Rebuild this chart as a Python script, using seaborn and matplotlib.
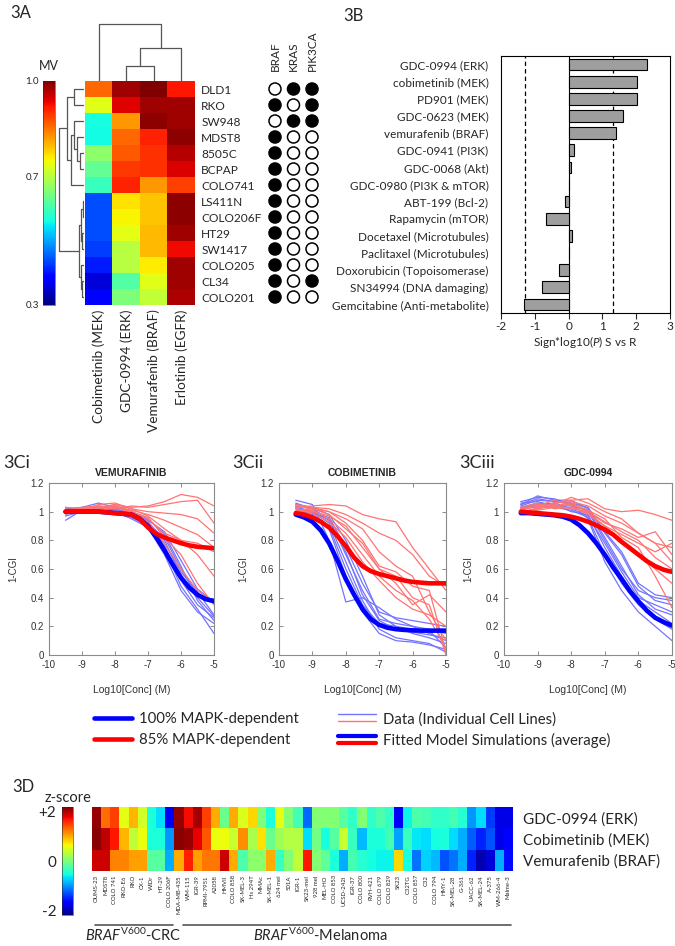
import numpy as np
import pandas as pd
import matplotlib
matplotlib.use("Agg")
import matplotlib.pyplot as plt
import matplotlib.transforms as mtransforms
from matplotlib.lines import Line2D
from matplotlib.legend_handler import HandlerBase
import seaborn as sns

sns.set_style("white")
plt.rcParams["font.family"] = ["Lato", "DejaVu Sans"]
plt.rcParams["mathtext.fontset"] = "custom"
plt.rcParams["mathtext.rm"] = "Lato"
plt.rcParams["mathtext.it"] = "Lato:italic"
plt.rcParams["mathtext.bf"] = "Lato:bold"
plt.rcParams["axes.unicode_minus"] = False
ARIAL = ["Liberation Sans", "DejaVu Sans"]

# =====================================
# Data - 3A (MV heatmap + mutations)
# =====================================

cell_lines_a = ["DLD1", "RKO", "SW948", "MDST8", "8505C", "BCPAP", "COLO741",
                "LS411N", "COLO206F", "HT29", "SW1417", "COLO205", "CL34", "COLO201"]
drugs_a = ["Cobimetinib (MEK)", "GDC-0994 (ERK)", "Vemurafenib (BRAF)", "Erlotinib (EGFR)"]
mv_cobimetinib = [0.86, 0.735, 0.565, 0.56, 0.665, 0.63, 0.595, 0.44, 0.44, 0.44, 0.43, 0.405, 0.355, 0.385]
mv_gdc0994 = [0.98, 0.94, 0.825, 0.86, 0.87, 0.895, 0.91, 0.77, 0.755, 0.74, 0.70, 0.70, 0.615, 0.65]
mv_vemurafenib = [1.0, 0.98, 0.99, 0.91, 0.90, 0.90, 0.825, 0.79, 0.79, 0.80, 0.80, 0.76, 0.735, 0.71]
mv_erlotinib = [0.92, 0.98, 0.98, 0.99, 0.965, 0.945, 0.89, 0.99, 0.99, 0.98, 0.93, 0.98, 0.98, 0.97]

genes = ["BRAF", "KRAS", "PIK3CA"]
mut_braf = [0, 1, 0, 1, 1, 1, 1, 1, 1, 1, 1, 1, 1, 1]
mut_kras = [1, 0, 1, 0, 0, 0, 0, 0, 0, 0, 0, 0, 0, 0]
mut_pik3ca = [1, 1, 1, 0, 0, 0, 0, 0, 0, 0, 0, 0, 1, 0]

# dendrogram trees: (left, right, merge height)
col_tree = (0, ((1, 2, 15), 3, 33), 57)
row_tree = (((0, 1, 10), ((2, (3, (4, 5, 4), 7), 10), 6, 13), 17),
            (((7, 8, 1.5), (9, 10, 2.0), 3.0), (11, (12, 13, 2.0), 3.0), 5.0),
            25.5)

# =====================================
# Data - 3B
# =====================================

drugs_b = ["GDC-0994 (ERK)", "cobimetinib (MEK)", "PD901 (MEK)", "GDC-0623 (MEK)",
           "vemurafenib (BRAF)", "GDC-0941 (PI3K)", "GDC-0068 (Akt)",
           "GDC-0980 (PI3K & mTOR)", "ABT-199 (Bcl-2)", "Rapamycin (mTOR)",
           "Docetaxel (Microtubules)", "Paclitaxel (Microtubules)",
           "Doxorubicin (Topoisomerase)", "SN34994 (DNA damaging)",
           "Gemcitabine (Anti-metabolite)"]
pvals_b = [2.32, 2.01, 2.01, 1.62, 1.39, 0.15, 0.08, 0.0, -0.12, -0.68, 0.11, 0.0, -0.28, -0.78, -1.32]
sig_level = 1.301

# =====================================
# Data - 3C dose response
# =====================================

x_data = [-9.5, -9.0, -8.5, -8.0, -7.5, -7.0, -6.5, -6.0, -5.5, -5.0]
x_fit = [-9.5, -9.25, -9.0, -8.75, -8.5, -8.25, -8.0, -7.75, -7.5, -7.25,
         -7.0, -6.75, -6.5, -6.25, -6.0, -5.75, -5.5, -5.25, -5.0]

vem_blue_data = [
    [0.94, 1.01, 1.02, 1.00, 0.98, 0.93, 0.80, 0.55, 0.40, 0.27],
    [1.02, 1.03, 1.06, 1.03, 1.00, 0.95, 0.84, 0.62, 0.38, 0.24],
    [0.97, 1.00, 1.01, 1.02, 0.97, 0.92, 0.74, 0.48, 0.32, 0.15],
    [1.00, 1.02, 1.01, 0.99, 0.96, 0.90, 0.78, 0.58, 0.44, 0.28],
    [1.03, 1.01, 1.00, 1.02, 0.99, 0.94, 0.86, 0.66, 0.46, 0.37],
    [0.99, 1.00, 1.02, 1.00, 0.95, 0.89, 0.70, 0.45, 0.30, 0.22],
    [1.01, 0.99, 1.03, 1.01, 0.97, 0.91, 0.82, 0.60, 0.42, 0.36],
    [0.98, 1.02, 1.00, 1.04, 1.00, 0.93, 0.76, 0.52, 0.35, 0.26],
]
vem_red_data = [
    [1.00, 1.02, 1.03, 1.05, 1.03, 1.04, 1.07, 1.12, 1.10, 1.04],
    [1.01, 1.03, 1.04, 1.02, 1.04, 1.03, 1.05, 1.07, 1.08, 0.92],
    [0.99, 1.01, 1.05, 1.06, 1.02, 1.00, 0.99, 0.98, 0.95, 0.85],
    [1.02, 1.00, 1.03, 1.04, 1.01, 0.98, 0.94, 0.89, 0.84, 0.75],
    [0.98, 1.02, 1.01, 1.03, 1.00, 0.95, 0.85, 0.80, 0.78, 0.72],
    [1.00, 1.03, 1.02, 1.05, 1.02, 0.97, 0.88, 0.80, 0.70, 0.55],
    [1.01, 1.00, 1.04, 1.03, 0.99, 0.93, 0.78, 0.60, 0.45, 0.37],
    [1.03, 1.02, 1.01, 1.04, 1.00, 0.96, 0.82, 0.70, 0.50, 0.35],
]
vem_blue_fit = [1.0, 1.0, 1.0, 1.0, 1.0, 0.995, 0.99, 0.985, 0.98, 0.95,
                0.90, 0.82, 0.73, 0.63, 0.54, 0.47, 0.42, 0.39, 0.375]
vem_red_fit = [1.0, 1.0, 1.0, 1.0, 1.0, 0.995, 0.99, 0.985, 0.98, 0.95,
               0.89, 0.845, 0.82, 0.80, 0.78, 0.765, 0.755, 0.75, 0.745]

cob_blue_data = [
    [1.08, 1.05, 0.80, 0.37, 0.40, 0.33, 0.25, 0.20, 0.15, 0.10],
    [1.06, 1.02, 0.95, 0.70, 0.45, 0.25, 0.22, 0.20, 0.18, 0.15],
    [1.04, 0.99, 0.90, 0.60, 0.35, 0.22, 0.20, 0.18, 0.17, 0.05],
    [1.02, 0.98, 0.96, 0.75, 0.50, 0.30, 0.26, 0.24, 0.22, 0.20],
    [1.00, 1.00, 0.92, 0.65, 0.38, 0.18, 0.12, 0.10, 0.08, 0.02],
    [1.05, 1.03, 0.98, 0.80, 0.55, 0.28, 0.20, 0.15, 0.12, 0.08],
    [0.99, 0.97, 0.88, 0.55, 0.30, 0.15, 0.10, 0.09, 0.07, 0.04],
    [1.03, 1.00, 0.94, 0.72, 0.42, 0.24, 0.18, 0.16, 0.14, 0.12],
]
cob_red_data = [
    [1.03, 1.04, 1.05, 1.04, 0.98, 0.95, 0.93, 0.75, 0.60, 0.45],
    [1.00, 1.03, 1.02, 0.98, 0.92, 0.85, 0.80, 0.70, 0.55, 0.48],
    [1.02, 1.00, 0.97, 0.90, 0.75, 0.60, 0.55, 0.40, 0.35, 0.00],
    [0.99, 1.01, 0.95, 0.85, 0.70, 0.55, 0.45, 0.38, 0.25, 0.05],
    [1.04, 1.02, 1.00, 0.92, 0.80, 0.62, 0.58, 0.48, 0.45, 0.02],
    [1.01, 0.99, 0.93, 0.82, 0.65, 0.52, 0.40, 0.32, 0.28, 0.20],
    [1.00, 1.02, 0.98, 0.88, 0.78, 0.60, 0.50, 0.35, 0.42, 0.30],
    [1.05, 1.03, 1.00, 0.95, 0.88, 0.72, 0.62, 0.55, 0.30, 0.10],
]
cob_blue_fit = [0.98, 0.96, 0.93, 0.87, 0.78, 0.66, 0.53, 0.42, 0.32, 0.25,
                0.21, 0.19, 0.18, 0.175, 0.172, 0.17, 0.17, 0.17, 0.17]
cob_red_fit = [0.99, 0.98, 0.96, 0.93, 0.89, 0.83, 0.76, 0.68, 0.62, 0.585,
               0.565, 0.55, 0.535, 0.52, 0.51, 0.505, 0.50, 0.50, 0.50]

gdc_blue_data = [
    [1.07, 1.10, 1.09, 1.05, 1.00, 0.80, 0.60, 0.45, 0.40, 0.38],
    [1.05, 1.11, 1.08, 1.08, 1.02, 0.85, 0.70, 0.48, 0.38, 0.35],
    [1.03, 1.06, 1.05, 1.00, 0.98, 0.75, 0.55, 0.38, 0.30, 0.22],
    [1.04, 1.08, 1.07, 1.06, 0.95, 0.65, 0.45, 0.30, 0.20, 0.10],
    [1.06, 1.07, 1.04, 1.04, 1.01, 0.82, 0.62, 0.42, 0.32, 0.28],
    [1.02, 1.05, 1.06, 1.02, 0.97, 0.78, 0.58, 0.40, 0.35, 0.30],
    [1.05, 1.09, 1.07, 1.06, 1.03, 0.86, 0.72, 0.50, 0.42, 0.40],
    [1.03, 1.04, 1.03, 1.01, 0.96, 0.70, 0.50, 0.35, 0.25, 0.18],
]
gdc_red_data = [
    [1.00, 1.02, 1.06, 1.08, 1.09, 1.02, 1.00, 1.01, 0.98, 0.94],
    [0.98, 1.03, 1.05, 1.10, 1.06, 1.00, 0.95, 0.85, 0.78, 0.75],
    [1.02, 1.05, 1.04, 1.02, 1.00, 0.92, 0.88, 0.82, 0.86, 0.70],
    [1.01, 1.04, 1.08, 1.04, 0.98, 0.90, 0.84, 0.78, 0.72, 0.78],
    [0.99, 1.01, 1.03, 1.05, 1.00, 0.93, 0.86, 0.80, 0.68, 0.60],
    [1.03, 1.06, 1.02, 1.03, 0.99, 0.90, 0.80, 0.70, 0.60, 0.50],
    [1.00, 1.02, 1.04, 1.06, 1.01, 0.95, 0.82, 0.75, 0.55, 0.33],
    [1.02, 1.03, 1.06, 1.07, 1.04, 0.97, 0.92, 0.85, 0.78, 0.65],
]
gdc_blue_fit = [0.99, 0.99, 0.985, 0.98, 0.975, 0.965, 0.945, 0.905, 0.85, 0.78,
                0.70, 0.61, 0.53, 0.445, 0.375, 0.31, 0.26, 0.23, 0.205]
gdc_red_fit = [1.0, 0.995, 0.99, 0.985, 0.98, 0.975, 0.965, 0.95, 0.93, 0.905,
               0.875, 0.84, 0.79, 0.745, 0.70, 0.655, 0.62, 0.595, 0.58]

# =====================================
# Data - 3D z-score heatmap
# =====================================

lines_crc = ["OUMS-23", "MDST8", "COLO 741", "RKO-E6", "RKO", "CX-1", "WiDr", "HT-29", "COLO 206F"]
lines_mel = ["MDA-MB-435", "WM-115", "IGR-39", "RPMI-7951", "A2058", "HMVII", "COLO 858",
             "SK-MEL-3", "Hs 294T", "MMAc", "SK-MEL-1", "624 mel", "501A", "IGR-1",
             "SK23-mel", "928 mel", "MEL-HO", "COLO 853", "UCSD-242l", "IGR-37",
             "COLO 800", "RVH-421", "COLO 679", "COLO 829", "SK23", "C32TG", "COLO 857",
             "C32", "COLO 794", "HMY-1", "SK-MEL-28", "G-361", "UACC-62", "SK-MEL-24",
             "A-375", "WM-266-4", "Malme-3"]
drugs_d = ["GDC-0994 (ERK)", "Cobimetinib (MEK)", "Vemurafenib (BRAF)"]
z_gdc0994 = [2.1, 1.3, 1.5, 0.55, 0.95, 0.45, -0.5, -0.7, -1.75,
             2.1, 1.75, 2.05, 1.5, 1.0, -0.1, 1.0, 0.5, 0.8, 0.0, -0.5, 0.55, 0.05, -0.3,
             -1.2, 0.05, 0.05, 0.05,
             -0.2, -0.4, 0.05, -0.4, -0.25, -0.4, -1.7, -0.6, -0.25, -0.3, -0.4, -0.4,
             -0.3, -0.45, -1.0, -0.7, -1.4, -1.8, -1.8]
z_cobimetinib = [2.15, 1.95, 1.7, 0.95, 0.35, 0.6, -0.5, -0.5, -1.0,
                 2.15, 2.1, 1.8, 1.4, 0.6, 0.6, 0.4, 1.15, 0.25, 0.75, -0.1, 0.2, 0.3, 0.3,
                 -0.7, -0.05, -0.55, -0.2,
                 0.4, -0.35, -0.85, -0.5, -0.5, -0.3, -0.95, -0.35, -0.65, -0.7, -0.55, -0.5,
                 -0.7, -0.9, -1.25, -1.5, -1.3, -1.8, -1.7]
z_vemurafenib = [1.9, 1.9, 1.2, 1.2, 1.05, 1.05, -0.2, -0.2, -0.9,
                 1.0, 1.65, 1.05, 1.25, 1.25, 1.9, 1.0, -0.25, 0.1, 0.1, 1.0, -0.35, 0.05, 0.35,
                 1.7, 0.05, -0.15, -0.5,
                 -0.9, -0.3, -0.45, -0.55, -0.6, -0.6, 0.8, -0.55, -1.15, -0.75, -0.85, -1.3,
                 -1.15, -0.9, -1.5, -2.0, -1.85, -0.9, -1.6]

# =====================================
# Layout helpers (pixel boxes on a 675x946 canvas)
# =====================================

W, H = 675, 946
fig = plt.figure(figsize=(W / 100, H / 100), dpi=100)


def box(l, t, r, b):
    return [l / W, 1 - b / H, (r - l) / W, (b - t) / H]


def ftext(x, y, s, **kw):
    fig.text(x / W, 1 - y / H, s, **kw)


def draw_tree(ax, node, top):
    if isinstance(node, int):
        return node + 0.5, 0.0
    a, b, h = node
    pa, ha = draw_tree(ax, a, top)
    pb, hb = draw_tree(ax, b, top)
    pos = [pa, pa, pb, pb]
    hts = [ha, h, h, hb]
    if top:
        ax.plot(pos, hts, color="#555555", lw=0.9)
    else:
        ax.plot(hts, pos, color="#555555", lw=0.9)
    return (pa + pb) / 2, h


# =====================================
# 3A
# =====================================

ftext(10, 13, "3A", fontsize=12, va="center")

mv = pd.DataFrame(
    np.array([mv_cobimetinib, mv_gdc0994, mv_vemurafenib, mv_erlotinib]).T,
    index=cell_lines_a, columns=drugs_a
)
ax_hm = fig.add_axes(box(85, 81, 195, 305))
ax_cb = fig.add_axes(box(43, 81, 55, 305))
sns.heatmap(mv, cmap="jet", vmin=0.3, vmax=1.0, ax=ax_hm, cbar_ax=ax_cb)
ax_hm.tick_params(axis="y", left=False, right=False, labelleft=False, labelright=True,
                  pad=1, labelsize=8.6, labelrotation=0)
ax_hm.tick_params(axis="x", length=0, pad=3, labelsize=9.8, labelrotation=90)
ax_hm.set_xlabel("")
ax_hm.set_ylabel("")

cb = ax_hm.collections[0].colorbar
cb.set_ticks([0.3, 0.7, 1.0])
cb.set_ticklabels(["0.3", "0.7", "1.0"])
cb.outline.set_linewidth(0.4)
ax_cb.yaxis.set_ticks_position("left")
ax_cb.tick_params(length=0, labelsize=7, pad=3)
ftext(49, 66, "MV", fontsize=9, ha="center", va="center")

ax_top = fig.add_axes(box(85, 20, 195, 81))
draw_tree(ax_top, col_tree, True)
ax_top.set_xlim(0, 4)
ax_top.set_ylim(0, 61)
ax_top.axis("off")

ax_left = fig.add_axes(box(56, 81, 84, 305))
draw_tree(ax_left, row_tree, False)
ax_left.set_xlim(28, 0)
ax_left.set_ylim(14, 0)
ax_left.axis("off")

mut = pd.DataFrame({
    "gene": np.repeat(genes, len(cell_lines_a)),
    "row": np.tile(np.arange(len(cell_lines_a)) + 0.5, len(genes)),
    "col": np.repeat(np.arange(len(genes)), len(cell_lines_a)),
    "status": mut_braf + mut_kras + mut_pik3ca,
})
ax_mut = fig.add_axes(box(265, 81, 322, 305))
sns.scatterplot(data=mut, x="col", y="row", hue="status",
                palette={1: "black", 0: "white"}, edgecolor="black", linewidth=1.1,
                s=75, legend=False, ax=ax_mut, clip_on=False)
ax_mut.set_xlim(-0.54, 2.54)
ax_mut.set_ylim(14, 0)
ax_mut.set_xticks(range(len(genes)))
ax_mut.set_xticklabels(genes, rotation=90, fontsize=8.5)
ax_mut.xaxis.tick_top()
ax_mut.tick_params(axis="x", length=0, pad=7)
ax_mut.set_yticks([])
ax_mut.set_xlabel("")
ax_mut.set_ylabel("")
for s in ax_mut.spines.values():
    s.set_visible(False)

# =====================================
# 3B
# =====================================

ftext(343, 16, "3B", fontsize=12, va="center")
ax_b = fig.add_axes(box(501, 56, 670, 313))
sns.barplot(x=pvals_b, y=drugs_b, color="#9E9E9E", saturation=1, edgecolor="black",
            linewidth=0.8, width=0.68, ax=ax_b, orient="h")
ax_b.axvline(0, color="black", lw=0.8, zorder=0.5)
ax_b.axvline(-sig_level, color="black", lw=0.9, ls=(0, (3.5, 2.5)), zorder=0.5)
ax_b.axvline(sig_level, color="black", lw=0.9, ls=(0, (3.5, 2.5)), zorder=0.5)
ax_b.set_xlim(-2, 3)
ax_b.set_xticks([-2, -1, 0, 1, 2, 3])
ax_b.tick_params(axis="y", length=0, pad=9, labelsize=8.5)
ax_b.tick_params(axis="x", direction="out", length=4, width=0.8, pad=2, labelsize=8.5,
                 bottom=True)
for s in ax_b.spines.values():
    s.set_visible(True)
    s.set_color("black")
    s.set_linewidth(0.8)
ax_b.set_xlabel(r"Sign*log10($\it{P}$) S vs R", fontsize=8.5, labelpad=1)


# =====================================
# 3C
# =====================================

def curves_frame(x, rows):
    recs = []
    for k, row in enumerate(rows):
        for xv, yv in zip(x, row):
            recs.append((k, xv, yv))
    return pd.DataFrame(recs, columns=["line", "conc", "val"])


panels_c = [
    ("3Ci", "VEMURAFINIB", (49, 214), 3, vem_blue_data, vem_red_data, vem_blue_fit, vem_red_fit),
    ("3Cii", "COBIMETINIB", (279, 446), 232, cob_blue_data, cob_red_data, cob_blue_fit, cob_red_fit),
    ("3Ciii", "GDC-0994", (504, 672), 459, gdc_blue_data, gdc_red_data, gdc_blue_fit, gdc_red_fit),
]

for tag, title, (l, r), tag_x, bdat, rdat, bfit, rfit in panels_c:
    ax = fig.add_axes(box(l, 483, r, 655))
    sns.lineplot(data=curves_frame(x_data, bdat), x="conc", y="val", units="line",
                 estimator=None, color="#7373FF", lw=0.9, ax=ax, legend=False)
    sns.lineplot(data=curves_frame(x_data, rdat), x="conc", y="val", units="line",
                 estimator=None, color="#FF7373", lw=0.9, ax=ax, legend=False)
    sns.lineplot(x=x_fit, y=bfit, color="#0000FF", lw=3.3, ax=ax)
    sns.lineplot(x=x_fit, y=rfit, color="#FF0000", lw=3.3, ax=ax)
    ax.set_xlim(-10, -5)
    ax.set_ylim(0, 1.2)
    ax.set_xticks([-10, -9, -8, -7, -6, -5])
    ax.set_yticks([0, 0.2, 0.4, 0.6, 0.8, 1.0, 1.2])
    ax.set_yticklabels(["0", "0.2", "0.4", "0.6", "0.8", "1", "1.2"])
    ax.tick_params(direction="in", length=3, width=0.6, color="#777777", top=True,
                   right=True, bottom=True, left=True, labelsize=7, labelcolor="#333333")
    for lab in ax.get_xticklabels() + ax.get_yticklabels():
        lab.set_family(ARIAL)
    for s in ax.spines.values():
        s.set_visible(True)
        s.set_color("#8A8A8A")
        s.set_linewidth(0.8)
    ax.set_xlabel("Log10[Conc] (M)", fontsize=7.5, labelpad=11, family=ARIAL, color="#333333")
    ax.set_ylabel("1-CGI", fontsize=7, labelpad=9, family=ARIAL, color="#333333")
    ax.set_title(title, fontsize=7.5, fontweight="bold", pad=5, family=ARIAL)
    ftext(tag_x, 463, tag, fontsize=13, va="center")


class StackedLines(HandlerBase):
    def create_artists(self, legend, orig_handle, xdescent, ydescent, width, height,
                       fontsize, trans):
        out = []
        for line, f in zip(orig_handle, [0.85, 0.2]):
            y = f * height - ydescent
            ln = Line2D([-xdescent, -xdescent + width], [y, y], color=line.get_color(),
                        lw=line.get_linewidth())
            ln.set_transform(trans)
            out.append(ln)
        return out


h_blue = Line2D([], [], color="#0000FF", lw=3.3)
h_red = Line2D([], [], color="#FF0000", lw=3.3)
h_data = (Line2D([], [], color="#7373FF", lw=1.0), Line2D([], [], color="#FF7373", lw=1.0))
h_fit = (Line2D([], [], color="#0000FF", lw=3.0), Line2D([], [], color="#FF0000", lw=3.0))
fig.legend(handles=[h_blue, h_red, h_data, h_fit],
           labels=["100% MAPK-dependent", "85% MAPK-dependent",
                   "Data (Individual Cell Lines)", "Fitted Model Simulations (average)"],
           ncol=2, loc="center", bbox_to_anchor=(352 / W, 1 - 730 / H), frameon=False,
           fontsize=10.7, handlelength=2.6, columnspacing=2.6, handletextpad=0.45,
           labelspacing=0.45, handler_map={tuple: StackedLines()})

# =====================================
# 3D
# =====================================

ftext(12, 787, "3D", fontsize=12, va="center")
ftext(68, 798, "z-score", fontsize=10.5, ha="center", va="center")

zdf = pd.DataFrame([z_gdc0994, z_cobimetinib, z_vemurafenib],
                   index=drugs_d, columns=lines_crc + lines_mel)
ax_z = fig.add_axes(box(92, 807, 513, 871))
ax_zc = fig.add_axes(box(62, 807, 73, 915))
sns.heatmap(zdf, cmap="jet", vmin=-2.2, vmax=2.2, ax=ax_z, cbar_ax=ax_zc,
            xticklabels=True, yticklabels=True)
ax_z.tick_params(axis="y", left=False, right=False, labelleft=False, labelright=True,
                 pad=4, labelsize=11, labelrotation=0)
ax_z.tick_params(axis="x", length=0, pad=3, labelsize=4.3, labelrotation=90)
ax_z.set_xlabel("")
ax_z.set_ylabel("")

zcb = ax_z.collections[0].colorbar
zcb.set_ticks([-2, 0, 2])
zcb.set_ticklabels(["-2", "0", "+2"])
zcb.outline.set_linewidth(0.4)
ax_zc.yaxis.set_ticks_position("left")
ax_zc.tick_params(length=0, labelsize=11, pad=4)

trans = mtransforms.blended_transform_factory(ax_z.transData, fig.transFigure)
n_crc = len(lines_crc)
n_all = n_crc + len(lines_mel)
y_line = 1 - 925 / H
y_lab = 1 - 935 / H
ax_z.plot([0.3, n_crc - 0.1], [y_line, y_line], color="#555555", lw=1.2,
          transform=trans, clip_on=False)
ax_z.plot([n_crc + 0.9, n_all - 0.2], [y_line, y_line], color="#555555", lw=1.2,
          transform=trans, clip_on=False)
ax_z.text(n_crc / 2, y_lab, r"$\it{BRAF}^{\rm{V600}}$-CRC", transform=trans,
          ha="center", va="center", fontsize=10.5)
ax_z.text(n_crc + 16, y_lab, r"$\it{BRAF}^{\rm{V600}}$-Melanoma", transform=trans,
          ha="center", va="center", fontsize=10.5)

fig.savefig("out.png", dpi=100)
